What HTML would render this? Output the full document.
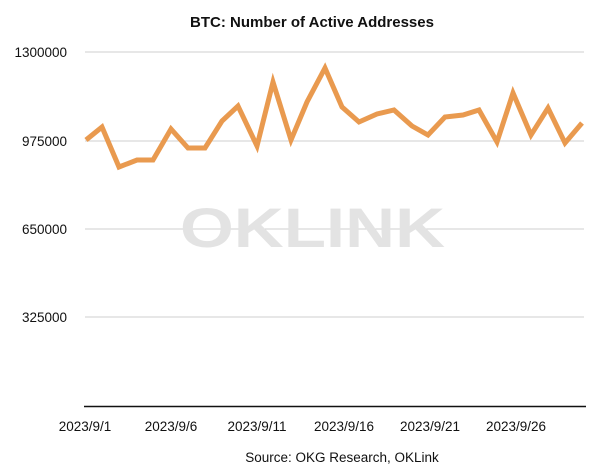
<!DOCTYPE html>
<html><head><meta charset="utf-8"><style>
body{margin:0;background:#fff;}
svg{display:block;font-family:"Liberation Sans",Arial,sans-serif;}
</style></head><body>
<svg width="600" height="472" viewBox="0 0 600 472">
<rect width="600" height="472" fill="#fff"/>
<text x="312" y="27" text-anchor="middle" font-size="15" font-weight="bold" fill="#111">BTC: Number of Active Addresses</text>
<g stroke="#cfcfcf" stroke-width="1">
<line x1="85" y1="52" x2="584" y2="52"/>
<line x1="85" y1="141" x2="584" y2="141"/>
<line x1="85" y1="229" x2="584" y2="229"/>
<line x1="85" y1="317" x2="584" y2="317"/>
</g>
<line x1="84" y1="406.5" x2="586" y2="406.5" stroke="#111" stroke-width="1.5"/>
<g font-size="13.5" fill="#111" text-anchor="end">
<text x="67" y="57">1300000</text>
<text x="67" y="146">975000</text>
<text x="67" y="234">650000</text>
<text x="67" y="322">325000</text>
</g>
<text x="180" y="247" font-size="56" font-weight="bold" fill="#e3e3e3" textLength="265" lengthAdjust="spacingAndGlyphs">OKLINK</text>
<g font-size="13.5" fill="#111" text-anchor="middle">
<text x="85" y="431">2023/9/1</text>
<text x="171" y="431">2023/9/6</text>
<text x="257" y="431">2023/9/11</text>
<text x="344" y="431">2023/9/16</text>
<text x="430" y="431">2023/9/21</text>
<text x="516" y="431">2023/9/26</text>
</g>
<text x="342" y="462" text-anchor="middle" font-size="13.5" fill="#111">Source: OKG Research, OKLink</text>
<polyline fill="none" stroke="#E99A4F" stroke-width="5" stroke-linejoin="miter" points="86,140 102,127 119,167 137,160 153,160 171,129 188,148 205,148 222,121 238,106 257,146 273,82 291,140 307,102 325,68 342,107 359,122 377,114 394,110 412,126 428,135 445,117 463,115 479,110 497,142 513,93 531,135 548,108 565,143 582,123"/>
</svg>
</body></html>
